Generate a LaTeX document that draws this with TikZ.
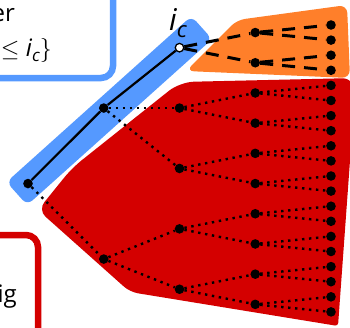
\documentclass[tikz,border=0pt]{standalone}
\usepackage{fix-cm}
\usepackage{fontspec}
\setmainfont{Open Sans}
\usetikzlibrary{calc}
\definecolor{ublue}{HTML}{5599FF}
\definecolor{uorange}{HTML}{FF7F2A}
\definecolor{ured}{HTML}{D40000}
\pgfdeclarelayer{regions}
\pgfdeclarelayer{edges}
\pgfsetlayers{regions,edges,main}
\begin{document}
\begin{tikzpicture}[x=1pt,y=-1pt,
  nd/.style={circle,fill=black,inner sep=0pt,minimum size=9.6pt},
  icnode/.style={circle,fill=white,draw=black,line width=1.3pt,inner sep=0pt,minimum size=8.5pt},
  solidedge/.style={line width=2.2pt},
  dotedge/.style={line width=2.4pt,dash pattern=on 2.4pt off 4.6pt},
  dashedge/.style={line width=3pt,dash pattern=on 13pt off 9pt},
  boxtext/.style={inner sep=0pt,font=\fontsize{24}{30}\selectfont},
  framebox/.style={line width=6.5pt,rounded corners=12pt}
]
\useasboundingbox (0,0) rectangle (350,327);

% tree nodes
\node[nd] (root) at (28,183.55) {};
\node[nd] (a1) at (103.75,108.05) {};
\node[nd] (b1) at (103.75,259.05) {};
\node[icnode] (ic) at (179.5,47.65) {};
\node[nd] (a2) at (179.5,108.05) {};
\node[nd] (b2) at (179.5,168.45) {};
\node[nd] (c2) at (179.5,228.85) {};
\node[nd] (d2) at (179.5,289.25) {};
\foreach \i in {0,...,9} {
  \node[nd] (t\i) at (255.25,{32.55+30.2*\i}) {};
}
\foreach \k in {0,...,19} {
  \node[nd] (l\k) at (331,{25+15.1*\k}) {};
}

% label
\node[anchor=base west,inner sep=0pt] (iclabel) at (169,30)
  {\fontsize{30}{30}\selectfont\itshape i\raisebox{-7pt}{\fontsize{22}{22}\selectfont c}};

% text boxes (cropped)
\draw[ublue,framebox] (-40,-40) rectangle (113,78);
\node[boxtext,anchor=base east] (txtA) at (15,21) {er};
\node[boxtext,anchor=base east] (txtB) at (52,56)
  {$\le$ \textit{i}\raisebox{-5pt}{\fontsize{17}{17}\selectfont\itshape c}$\bigr\}$};
\draw[ured,framebox] (-40,235) rectangle (38,370);
\node[boxtext,anchor=base east] (txtC) at (17,302) {ig};

% regions
\begin{pgfonlayer}{regions}
  \node[fill=ublue,rounded corners=7pt,minimum width=248.5pt,minimum height=31pt,
        inner sep=0pt,rotate=41.9] (band) at (109.33,110.6) {};
  \fill[uorange,rounded corners=8pt] (186,71) -- (237,20) -- (347,5) -- (350,78) -- cycle;
  \fill[ured] [rounded corners=14pt] (180,82) -- (356,78)
     [rounded corners=3pt] -- (338,326)
     [rounded corners=8pt] -- (130,292)
     [rounded corners=10pt] -- (38,210)
     [rounded corners=12pt] -- (72,168)
     [rounded corners=14pt] -- cycle;
\end{pgfonlayer}

% edges
\begin{pgfonlayer}{edges}
  \draw[solidedge] (root) -- (a1);
  \draw[solidedge] (a1) -- (ic);
  \draw[dotedge] (root) -- (b1);
  \draw[dotedge] (a1) -- (a2);
  \draw[dotedge] (a1) -- (b2);
  \draw[dotedge] (b1) -- (c2);
  \draw[dotedge] (b1) -- (d2);
  \draw[dashedge] (ic) -- (t0);
  \draw[dashedge] (ic) -- (t1);
  \draw[dotedge] (a2) -- (t2);
  \draw[dotedge] (a2) -- (t3);
  \draw[dotedge] (b2) -- (t4);
  \draw[dotedge] (b2) -- (t5);
  \draw[dotedge] (c2) -- (t6);
  \draw[dotedge] (c2) -- (t7);
  \draw[dotedge] (d2) -- (t8);
  \draw[dotedge] (d2) -- (t9);
  \foreach \i in {0,1} {
    \pgfmathtruncatemacro{\ka}{2*\i}
    \pgfmathtruncatemacro{\kb}{2*\i+1}
    \draw[dashedge] (t\i) -- (l\ka);
    \draw[dashedge] (t\i) -- (l\kb);
  }
  \foreach \i in {2,...,9} {
    \pgfmathtruncatemacro{\ka}{2*\i}
    \pgfmathtruncatemacro{\kb}{2*\i+1}
    \draw[dotedge] (t\i) -- (l\ka);
    \draw[dotedge] (t\i) -- (l\kb);
  }
\end{pgfonlayer}
\end{tikzpicture}
\end{document}
